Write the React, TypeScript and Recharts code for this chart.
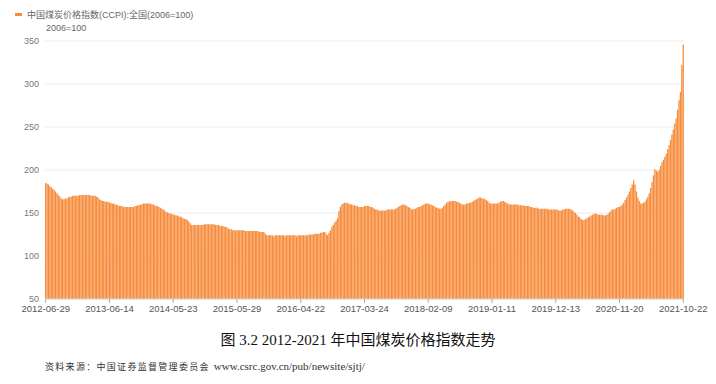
// China coal price index (CCPI), weekly, 2012-2021 — bar chart with caption

import { BarChart, Bar, XAxis, YAxis, CartesianGrid } from 'recharts';

const seriesName = '中国煤炭价格指数(CCPI):全国(2006=100)';
const unitLabel = '2006=100';

// tick labels shown along the x axis (evenly spaced by point count)
const tickLabels = [
  '2012-06-29', '2013-06-14', '2014-05-23', '2015-05-29', '2016-04-22', '2017-03-24',
  '2018-02-09', '2019-01-11', '2019-12-13', '2020-11-20', '2021-10-22',
];

const yTicks = [50, 100, 150, 200, 250, 300, 350];

// weekly index values
const ccpi = [
  // 2012 - 2013
  185, 184, 183, 181, 180, 178, 177, 175, 173, 171, 169, 167, 166,
  166, 167, 167, 168, 169, 169, 170,
  170, 170, 170, 170, 171, 171, 171, 171, 171, 171, 171, 171, 170, 170, 170, 170,
  169, 168, 166, 165,
  164, 164, 163, 163, 163, 162, 162,
  161, 161, 160, 160, 159,
  158, 158, 158, 157, 157, 157,
  157, 157, 157, 157, 157,
  158, 158, 159, 159, 160, 160, 161, 161, 161,
  161, 161, 161, 160, 160,
  159, 158, 158, 157, 156,
  155, 154, 153, 151,
  // 2014
  151, 150, 149, 149, 148,
  148, 147, 147, 146, 146,
  145, 144, 143, 143, 142,
  140, 138, 136,
  136, 136, 136, 136, 136, 136,
  136, 136, 137, 137, 137, 137, 137, 137,
  137, 137, 136, 136, 136, 135, 135, 135,
  134, 134, 133, 132, 131, 131, 130,
  // 2015
  130, 130, 130, 130, 130, 130, 130, 130, 129, 129, 129, 129, 129, 129, 129, 129,
  129, 129, 128, 128, 128, 128,
  126, 124,
  124, 124, 124, 124, 123, 124, 124, 124, 124, 124, 124, 124, 123, 124,
  124, 124, 124, 124, 124, 124, 123, 124, 124, 124, 124, 124, 124, 124,
  // 2016
  124, 125, 125, 125, 125, 126, 126, 126,
  126, 127, 127, 128, 128,
  126, 124,
  127, 130, 134,
  136, 139, 141, 144,
  152, 157,
  160, 161,
  // 2017
  162, 162, 161, 161, 160, 160, 159,
  159, 158, 158, 157, 157,
  157, 157, 158, 158, 158, 158,
  157, 157, 156, 155, 154, 154, 153, 153,
  153, 153, 153, 153, 154, 154, 154, 154, 154, 154,
  155, 156, 157, 158, 159, 160,
  160, 159, 158,
  157, 156, 155, 154,
  // 2018
  155, 155, 156, 157, 157, 158,
  159, 160, 161, 161,
  161, 160, 160, 159, 158,
  157, 156, 156, 155, 155,
  156, 158, 160, 162, 163, 163, 164,
  164, 164, 164, 163, 163,
  162, 161, 160,
  160, 160, 161, 161, 162, 162,
  163, 164, 165, 166, 167, 168,
  // 2019
  168, 167, 167, 166, 165,
  164, 162, 161,
  161, 161, 161, 161, 161,
  162, 163, 164,
  164, 163, 162, 161, 160,
  160, 160, 160, 160, 160, 160,
  159, 159, 159, 159, 158, 158, 158,
  158, 157, 157, 156, 156,
  156, 156, 155, 155, 155, 155, 155, 155, 155,
  154, 154, 154, 154, 154, 154, 154, 153, 153, 153,
  // 2020
  154, 154, 155, 155, 155, 155,
  154, 153, 151, 150,
  148, 146, 145, 143, 142,
  142, 143, 144, 145,
  146, 147, 148, 149,
  149, 149, 148, 148, 148, 148, 147, 147, 148,
  149, 151, 153,
  154, 154, 155, 156, 157, 157, 158,
  160, 162, 165, 168, 171,
  175, 179, 183, 188,
  183, 175,
  168, 164, 161,
  // 2021
  161, 162, 163,
  166, 169, 173, 179,
  186, 194, 201,
  199, 198,
  200, 205, 209,
  212, 215, 219, 224, 229,
  235, 241, 247, 254, 260,
  270, 281, 291, 322, 346,
];

const data = ccpi.map((v, i) => ({ idx: i, v }));
const lastIdx = ccpi.length - 1;
const xTicks = tickLabels.map((_, k) => Math.round((k * lastIdx) / (tickLabels.length - 1)));
const labelAt = (i: number) => {
  const k = xTicks.indexOf(i);
  return k >= 0 ? tickLabels[k] : '';
};

const axisFont = "'Liberation Sans', Arial, sans-serif";
const cjkFont = "'Liberation Sans', 'Noto Sans CJK SC', sans-serif";
const barColor = '#f78c3c';

export default function App() {
  return (
    <div
      style={{
        position: 'absolute',
        left: 0,
        top: 0,
        width: 716,
        height: 384,
        background: '#fff',
        overflow: 'hidden',
      }}
    >
      {/* Legend */}
      <div
        style={{
          position: 'absolute',
          left: 15,
          top: 8,
          display: 'flex',
          alignItems: 'center',
          fontFamily: cjkFont,
          fontSize: 9,
          color: '#666',
          whiteSpace: 'nowrap',
        }}
      >
        <span style={{ display: 'inline-block', width: 7, height: 3, background: barColor, marginRight: 5 }} />
        <span>{seriesName}</span>
      </div>

      {/* Unit */}
      <div
        style={{
          position: 'absolute',
          left: 46,
          top: 23,
          fontFamily: axisFont,
          fontSize: 9,
          color: '#666',
        }}
      >
        {unitLabel}
      </div>

      <BarChart
        width={716}
        height={330}
        data={data}
        margin={{ top: 41, right: 32, left: 0, bottom: 0 }}
        barSize={1.3}
        style={{ position: 'absolute', left: 0, top: 0 }}
      >
        <CartesianGrid vertical={false} stroke="#ececec" />
        <XAxis
          dataKey="idx"
          type="category"
          ticks={xTicks}
          interval={0}
          tickFormatter={labelAt}
          height={31}
          tickSize={4}
          tickMargin={2}
          tick={{ fill: '#555', fontSize: 9.5, fontFamily: axisFont }}
          axisLine={{ stroke: '#d8d8d8' }}
          tickLine={{ stroke: '#aaa' }}
        />
        <YAxis
          domain={[50, 350]}
          ticks={yTicks}
          allowDataOverflow
          width={45}
          tickSize={4}
          tickMargin={2}
          axisLine={false}
          tickLine={false}
          tick={{ fill: '#777', fontSize: 9, fontFamily: axisFont }}
        />
        <Bar dataKey="v" fill={barColor} isAnimationActive={false} />
      </BarChart>

      {/* Caption */}
      <div
        style={{
          position: 'absolute',
          left: 0,
          width: 716,
          top: 328,
          textAlign: 'center',
          fontFamily: "'Liberation Serif', 'Noto Sans CJK SC', serif",
          fontSize: 15,
          color: '#111',
        }}
      >
        图 3.2 2012-2021 年中国煤炭价格指数走势
      </div>

      {/* Source */}
      <div
        style={{
          position: 'absolute',
          left: 45,
          top: 360,
          fontSize: 9,
          color: '#333',
          whiteSpace: 'nowrap',
        }}
      >
        <span style={{ fontFamily: "'Noto Sans CJK SC', sans-serif", letterSpacing: 1.3 }}>
          资料来源：中国证券监督管理委员会
        </span>
        <span style={{ fontFamily: "'Liberation Serif', serif", fontSize: 11, marginLeft: 4 }}>
          www.csrc.gov.cn/pub/newsite/sjtj/
        </span>
      </div>
    </div>
  );
}
